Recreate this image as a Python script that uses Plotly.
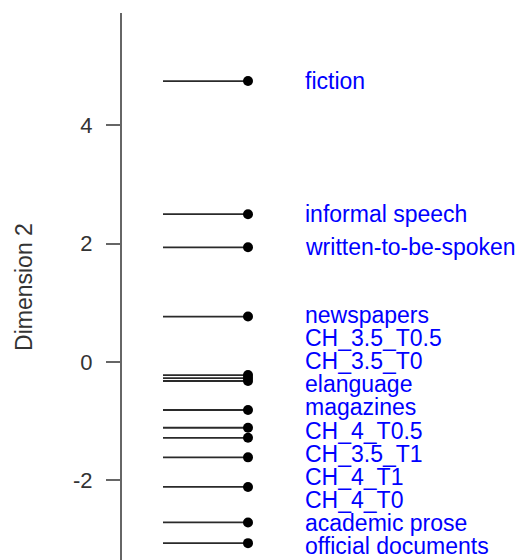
import plotly.graph_objects as go

# ---- data ----
registers = [
    "fiction", "informal speech", "written-to-be-spoken", "newspapers",
    "CH_3.5_T0.5", "CH_3.5_T0", "elanguage", "magazines",
    "CH_4_T0.5", "CH_3.5_T1", "CH_4_T1", "CH_4_T0",
    "academic prose", "official documents",
]
dim2_scores = [4.75, 2.50, 1.94, 0.77,
               -0.22, -0.27, -0.32, -0.81,
               -1.11, -1.28, -1.61, -2.11,
               -2.71, -3.06]
tick_values = [-2, 0, 2, 4]
tick_labels = ["-2", "0", "2", "4"]
axis_title = "Dimension 2"

# ---- layout constants ----
X_RANGE = [0, 399]
SEG_START = 41
SEG_END = 126
LABEL_X = 181
LABEL_GAP = 0.39


def spread_labels(vals, gap):
    order = sorted(range(len(vals)), key=lambda i: -vals[i])
    clusters = [[i] for i in order]
    changed = True
    while changed:
        changed = False
        for k in range(len(clusters) - 1):
            a, b = clusters[k], clusters[k + 1]
            ca = sum(vals[i] for i in a) / len(a)
            cb = sum(vals[i] for i in b) / len(b)
            bottom_a = ca - (len(a) - 1) * gap / 2
            top_b = cb + (len(b) - 1) * gap / 2
            if bottom_a - top_b < gap:
                clusters[k] = a + b
                del clusters[k + 1]
                changed = True
                break
    pos = [0.0] * len(vals)
    for c in clusters:
        center = sum(vals[i] for i in c) / len(c)
        top = center + (len(c) - 1) * gap / 2
        for j, i in enumerate(c):
            pos[i] = top - j * gap
    return pos


label_y = spread_labels(dim2_scores, LABEL_GAP)

seg_x, seg_y = [], []
for v in dim2_scores:
    seg_x += [SEG_START, SEG_END, None]
    seg_y += [v, v, None]

fig = go.Figure()
fig.add_trace(go.Scatter(x=seg_x, y=seg_y, mode="lines",
                         line=dict(color="#2a2a2a", width=1.8),
                         hoverinfo="skip", showlegend=False))
fig.add_trace(go.Scatter(x=[SEG_END] * len(dim2_scores), y=dim2_scores,
                         mode="markers",
                         marker=dict(color="black", size=10),
                         text=registers, showlegend=False))

for name, ly in zip(registers, label_y):
    fig.add_annotation(x=LABEL_X, y=ly, xref="x", yref="y", text=name,
                       showarrow=False, xanchor="left", yanchor="middle",
                       font=dict(family="Liberation Sans, Arial", size=23,
                                 color="#0000ff"))

fig.add_annotation(x=-0.247, y=0.5,
                   xref="paper", yref="paper", text=axis_title,
                   textangle=-90, showarrow=False,
                   xanchor="center", yanchor="middle",
                   font=dict(family="Liberation Sans, Arial", size=23,
                             color="#333333"))

fig.update_layout(
    width=521, height=560,
    margin=dict(l=122, r=0, t=13, b=0, pad=0),
    paper_bgcolor="white", plot_bgcolor="white",
    xaxis=dict(range=X_RANGE, visible=False, fixedrange=True),
    yaxis=dict(range=[-3.345, 5.9], tickvals=tick_values, ticktext=tick_labels,
               showline=True, linecolor="#666666", linewidth=2,
               ticks="outside", ticklen=14, tickwidth=2, tickcolor="#666666",
               ticklabelstandoff=9,
               showgrid=False, zeroline=False,
               tickfont=dict(family="Liberation Sans, Arial", size=22,
                             color="#333333")),
    font=dict(family="Liberation Sans, Arial"),
)

fig.write_html("out.html")
